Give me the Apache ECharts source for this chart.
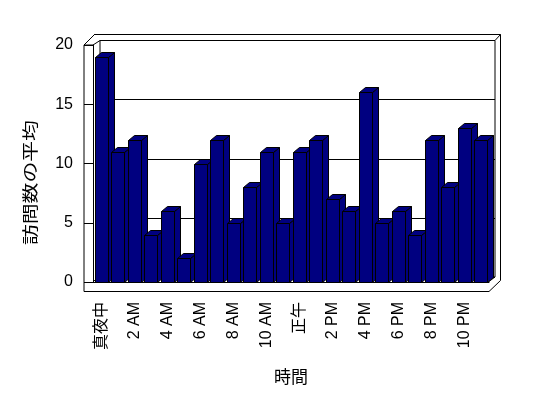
<!DOCTYPE html>
<html>
<head>
<meta charset="utf-8">
<script src="https://cdn.jsdelivr.net/npm/echarts@6/dist/echarts.min.js"></script>
<style>
  html, body { margin: 0; padding: 0; background: #fff; }
  #main { width: 548px; height: 398px; }
</style>
</head>
<body>
<div id="main"></div>
<script>
; (function () {

    var hours = ['真夜中', '1 AM', '2 AM', '3 AM', '4 AM', '5 AM', '6 AM', '7 AM', '8 AM', '9 AM', '10 AM', '11 AM',
        '正午', '1 PM', '2 PM', '3 PM', '4 PM', '5 PM', '6 PM', '7 PM', '8 PM', '9 PM', '10 PM', '11 PM'];
    var visits = [19, 11, 12, 4, 6, 2, 10, 12, 5, 8, 11, 5, 11, 12, 7, 6, 16, 5, 6, 4, 12, 8, 13, 12];
    var yMax = 20;
    var yStep = 5;

    var font = 'Liberation Sans, "Noto Sans CJK JP", sans-serif';
    var dx = 6, dy = -5; // 奥行き

    // 壁と床の枠線
    var frame = [
        [[84, 45], [84, 291.5]],
        [[84, 291.5], [489, 291.5]],
        [[84, 45], [93, 45]],
        [[84, 45], [95, 34]],
        [[93, 45], [100, 40.5]],
        [[95, 34.5], [500.5, 34.5]],
        [[495, 40.5], [500.5, 34.5]],
        [[500.5, 34.5], [500.5, 280.5]],
        [[489, 291.5], [500.5, 280.5]],
        [[489, 281.5], [495, 277]],
        [[93, 281.5], [100, 277]]
    ];
    var graphics = frame.map(function (seg) {
        return {
            type: 'line', z: 1, silent: true,
            shape: { x1: seg[0][0], y1: seg[0][1], x2: seg[1][0], y2: seg[1][1] },
            style: { stroke: '#000', lineWidth: 1 }
        };
    });
    graphics.push({
        type: 'text', silent: true,
        x: 24, y: 245, rotation: Math.PI / 2, scaleX: 1.3,
        style: { text: '訪問数の平均', font: '16px ' + font, fill: '#000', textVerticalAlign: 'top' }
    });

    var myEchartObj = echarts.init(document.getElementById('main'));
    var option = {
        backgroundColor: '#fff',
        animation: false,
        graphic: graphics,
        grid: [
            { left: 93, right: 59, top: 45, bottom: 116 },
            { left: 100, right: 53, top: 40.5, bottom: 121, show: true, borderColor: '#000', borderWidth: 1 }
        ],
        xAxis: [
            {
                type: 'category', gridIndex: 0, data: hours,
                name: '時間', nameLocation: 'middle', nameGap: 88,
                nameTextStyle: { color: '#000', fontSize: 17, fontFamily: font },
                axisLine: { lineStyle: { color: '#000' } },
                axisTick: { interval: 0, length: 10, lineStyle: { color: '#000' } },
                axisLabel: { interval: 1, rotate: 90, margin: 20, color: '#000', fontSize: 16, fontFamily: font }
            },
            { type: 'category', gridIndex: 1, data: hours, show: false }
        ],
        yAxis: [
            {
                type: 'value', gridIndex: 0, min: 0, max: yMax, interval: yStep,
                axisLine: { show: true, lineStyle: { color: '#000' } },
                axisTick: { show: true, length: 9, lineStyle: { color: '#000' } },
                axisLabel: { margin: 20, color: '#000', fontSize: 16, fontFamily: font },
                splitLine: { show: false }
            },
            {
                type: 'value', gridIndex: 1, min: 0, max: yMax, interval: yStep,
                axisLine: { show: false }, axisTick: { show: false }, axisLabel: { show: false },
                splitLine: { show: true, lineStyle: { color: '#000', width: 1 } }
            }
        ],
        series: [
            {
                type: 'custom',
                xAxisIndex: 0, yAxisIndex: 0,
                z: 3,
                data: visits.map(function (v, i) { return [i, v]; }),
                renderItem: function (params, api) {
                    var base = api.coord([api.value(0), 0]);
                    var top = api.coord([api.value(0), api.value(1)]);
                    var band = api.size([1, 0])[0];
                    var x0 = Math.round(base[0] - band / 2 + band * 0.1) + 0.5;
                    var w = Math.round(band * 0.8);
                    var yb = Math.round(base[1]) + 0.5;
                    var yt = Math.round(top[1]) + 0.5;
                    var style = { fill: '#000080', stroke: '#000', lineWidth: 1 };
                    return {
                        type: 'group',
                        children: [
                            {
                                type: 'polygon', style: style,
                                shape: { points: [[x0 + w, yt], [x0 + w + dx, yt + dy], [x0 + w + dx, yb + dy], [x0 + w, yb]] }
                            },
                            {
                                type: 'polygon', style: style,
                                shape: { points: [[x0, yt], [x0 + dx, yt + dy], [x0 + w + dx, yt + dy], [x0 + w, yt]] }
                            },
                            {
                                type: 'rect', style: style,
                                shape: { x: x0, y: yt, width: w, height: yb - yt }
                            }
                        ]
                    };
                }
            }
        ]
    };

    myEchartObj.setOption(option);
})();
</script>
</body>
</html>
